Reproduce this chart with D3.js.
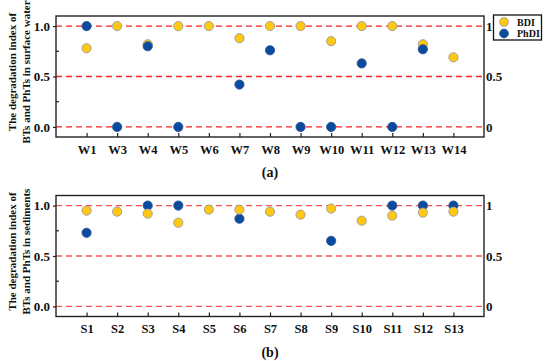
<!DOCTYPE html>
<html>
<head>
<meta charset="utf-8">
<script src="https://cdn.jsdelivr.net/npm/d3@7"></script>
<style>
  body { margin: 0; background: #fff; }
  text { font-family: "Liberation Serif", "Times New Roman", serif; font-weight: bold; fill: #111; }
</style>
</head>
<body>
<div id="chart"></div>
<script>
// data
var waterSites = ["W1", "W3", "W4", "W5", "W6", "W7", "W8", "W9", "W10", "W11", "W12", "W13", "W14"];
var waterBDI  = [0.78, 1.0, 0.82, 1.0, 1.0, 0.88, 1.0, 1.0, 0.85, 1.0, 1.0, 0.82, 0.69];
var waterPhDI = [1.0, 0.0, 0.80, 0.0, null, 0.42, 0.76, 0.0, 0.0, 0.63, 0.0, 0.77, null];

var sedSites = ["S1", "S2", "S3", "S4", "S5", "S6", "S7", "S8", "S9", "S10", "S11", "S12", "S13"];
var sedBDI  = [0.95, 0.94, 0.92, 0.83, 0.96, 0.96, 0.94, 0.91, 0.97, 0.85, 0.90, 0.93, 0.94];
var sedPhDI = [0.73, null, 1.0, 1.0, null, 0.87, null, null, 0.65, null, 1.0, 1.0, 1.0];

var leftTicks = [0, 0.5, 1];
var leftLabels = ["0.0", "0.5", "1.0"];
var rightLabels = ["0", "0.5", "1"];

var yellow = "#ffc814", blue = "#0b4b9d";

var svg = d3.select("#chart").append("svg")
    .attr("width", 550)
    .attr("height", 361);

// shared x scale (index based, one slot padding each side)
var x = d3.scaleLinear().domain([-1, 13]).range([56, 484]);

function panel(top, sites, bdi, phdi, title, yTitle2, dashColor, bdiOnTop) {
    var height = 121;
    var y = d3.scaleLinear().domain([-0.1, 1.1]).range([top + height, top]);
    var g = svg.append("g");

    // dashed reference lines
    g.selectAll(".ref")
        .data(leftTicks)
        .enter().append("line")
        .attr("x1", 56).attr("x2", 484)
        .attr("y1", function(d) { return y(d); })
        .attr("y2", function(d) { return y(d); })
        .attr("stroke", dashColor)
        .attr("stroke-width", 1.3)
        .attr("stroke-dasharray", "6,4");

    // frame (left, bottom, right axes)
    g.append("rect")
        .attr("x", 56).attr("y", top)
        .attr("width", 428).attr("height", height)
        .attr("fill", "none")
        .attr("stroke", "#222")
        .attr("stroke-width", 1.4);

    // left axis
    var left = g.append("g")
        .attr("transform", "translate(56,0)")
        .call(d3.axisLeft(y).tickValues(leftTicks)
            .tickFormat(function(d, i) { return leftLabels[i]; })
            .tickSizeOuter(0).tickSize(3).tickPadding(3));
    left.select(".domain").remove();
    left.selectAll("line").attr("stroke", "#222").attr("stroke-width", 1.2);
    left.selectAll("text").attr("font-size", "13px").attr("fill", "#111");

    // minor ticks on the left, inside
    g.selectAll(".minor")
        .data([0.25, 0.75])
        .enter().append("line")
        .attr("x1", 56).attr("x2", 59)
        .attr("y1", function(d) { return y(d); })
        .attr("y2", function(d) { return y(d); })
        .attr("stroke", "#222").attr("stroke-width", 1.2);

    // right axis
    var right = g.append("g")
        .attr("transform", "translate(484,0)")
        .call(d3.axisRight(y).tickValues(leftTicks)
            .tickFormat(function(d, i) { return rightLabels[i]; })
            .tickSizeOuter(0).tickSize(0).tickPadding(2));
    right.select(".domain").remove();
    right.selectAll("text").attr("font-size", "13px").attr("fill", "#111");

    // bottom axis
    var bottom = g.append("g")
        .attr("transform", "translate(0," + (top + height) + ")")
        .call(d3.axisBottom(x).tickValues(d3.range(sites.length))
            .tickFormat(function(d) { return sites[d]; })
            .tickSizeOuter(0).tickSizeInner(-4).tickPadding(8));
    bottom.select(".domain").remove();
    bottom.selectAll("line").attr("stroke", "#222").attr("stroke-width", 1.2);
    bottom.selectAll("text").attr("font-size", "12.5px").attr("fill", "#111");

    function dots(vals, fill, stroke) {
        g.append("g").selectAll("circle")
            .data(vals.map(function(v, i) { return {i: i, v: v}; })
                .filter(function(d) { return d.v !== null; }))
            .enter().append("circle")
            .attr("cx", function(d) { return x(d.i); })
            .attr("cy", function(d) { return y(d.v); })
            .attr("r", 4.6)
            .attr("fill", fill)
            .attr("stroke", stroke)
            .attr("stroke-width", 0.9);
    }
    if (bdiOnTop) {
        dots(phdi, blue, "#2a5595");
        dots(bdi, yellow, "#9a9a9a");
    } else {
        dots(bdi, yellow, "#9a9a9a");
        dots(phdi, blue, "#2a5595");
    }

    // y title (two lines, rotated)
    var cy = top + 56;
    var yt = g.append("text")
        .attr("transform", "translate(0," + cy + ") rotate(-90)")
        .attr("text-anchor", "middle")
        .attr("font-size", "11px");
    yt.append("tspan").attr("x", 0).attr("y", 16).text("The degradation index of");
    yt.append("tspan").attr("x", 0).attr("y", 30).text(yTitle2);

    // panel label
    g.append("text")
        .attr("x", 270)
        .attr("y", top + height + 40)
        .attr("text-anchor", "middle")
        .attr("font-size", "14px")
        .text(title);
}

panel(16, waterSites, waterBDI, waterPhDI, "(a)", "BTs and PhTs in surface water", "#ff2020", false);
panel(195.5, sedSites, sedBDI, sedPhDI, "(b)", "BTs and PhTs in sediments", "#ff5050", true);

// legend
var legend = svg.append("g");
legend.append("rect")
    .attr("x", 493.5).attr("y", 15)
    .attr("width", 48).attr("height", 25)
    .attr("fill", "#fff")
    .attr("stroke", "#111")
    .attr("stroke-width", 1.3);
var legendItems = [["BDI", yellow, "#9a9a9a"], ["PhDI", blue, "#2a5595"]];
legend.selectAll(".item")
    .data(legendItems)
    .enter().append("circle")
    .attr("cx", 504)
    .attr("cy", function(d, i) { return 22 + i * 11.5; })
    .attr("r", 4.4)
    .attr("fill", function(d) { return d[1]; })
    .attr("stroke", function(d) { return d[2]; })
    .attr("stroke-width", 0.9);
legend.selectAll(".lbl")
    .data(legendItems)
    .enter().append("text")
    .attr("x", 517)
    .attr("y", function(d, i) { return 25.5 + i * 11.5; })
    .attr("font-size", "10px")
    .text(function(d) { return d[0]; });
</script>
</body>
</html>
